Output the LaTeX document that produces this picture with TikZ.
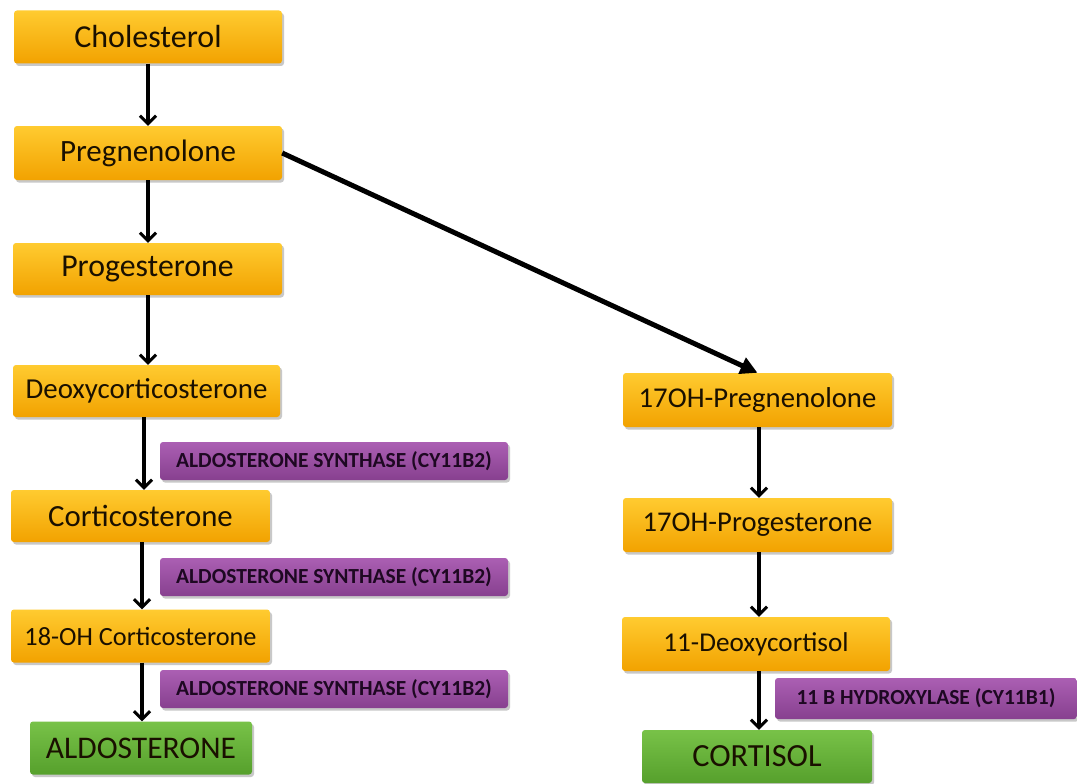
\documentclass[tikz,border=0pt]{standalone}
\usepackage{fontspec}
\setmainfont{Carlito}
\usetikzlibrary{arrows.meta,shadows,calc}
\definecolor{orT}{HTML}{FFCB30}
\definecolor{orB}{HTML}{F2A200}
\definecolor{puT}{HTML}{AB5FB3}
\definecolor{puB}{HTML}{87408F}
\definecolor{grT}{HTML}{78C248}
\definecolor{grB}{HTML}{56A02C}
\definecolor{putext}{HTML}{1E0822}
\definecolor{otext}{HTML}{1A1000}
\begin{document}
\begin{tikzpicture}[x=1pt,y=-1pt,
  base/.style={rounded corners=3pt, draw=none, inner sep=0pt, align=center,
    drop shadow={shadow xshift=2pt, shadow yshift=-2.5pt, opacity=0.3, fill=black!70}},
  obox/.style={base, top color=orT, bottom color=orB, text=otext},
  gbox/.style={base, top color=grT, bottom color=grB, text=otext},
  pbox/.style={base, top color=puT, bottom color=puB, text=putext,
    font=\fontsize{21.5}{21.5}\selectfont\bfseries, minimum width=348pt, minimum height=38pt},
  arr/.style={line width=3.4pt, -{Straight Barb[length=8pt,width=16pt,line width=3pt]}},
  bigarr/.style={line width=5pt, -{Triangle[length=17pt,width=17pt]}}
]
\useasboundingbox (0,0) rectangle (1077,784);
\fill[white] (0,0) rectangle (1077,784);

% left column
\node[obox, minimum width=268pt, minimum height=53pt, font=\fontsize{32}{32}\selectfont] (chol) at (148,37) {Cholesterol};
\node[obox, minimum width=268pt, minimum height=54pt, font=\fontsize{31}{31}\selectfont] (preg) at (148,153) {Pregnenolone};
\node[obox, minimum width=269pt, minimum height=52pt, font=\fontsize{31.8}{31.8}\selectfont] (prog) at (147.5,269) {Progesterone};
\node[obox, minimum width=267pt, minimum height=52pt, font=\fontsize{28.9}{28.9}\selectfont] (doc) at (146.5,391) {Deoxycorticosterone};
\node[obox, minimum width=259pt, minimum height=52pt, font=\fontsize{30.8}{30.8}\selectfont] (cort) at (140.5,516) {Corticosterone};
\node[obox, minimum width=259pt, minimum height=53pt, font=\fontsize{26.3}{26.3}\selectfont] (ohc) at (140.5,636) {18-OH Corticosterone};
\node[gbox, minimum width=222pt, minimum height=53pt, font=\fontsize{31.5}{31.5}\selectfont] (aldo) at (141,748) {ALDOSTERONE};

\node[pbox] (as1) at (334,461) {ALDOSTERONE SYNTHASE (CY11B2)};
\node[pbox] (as2) at (334,577) {ALDOSTERONE SYNTHASE (CY11B2)};
\node[pbox] (as3) at (334,689) {ALDOSTERONE SYNTHASE (CY11B2)};

% right column
\node[obox, minimum width=269pt, minimum height=54pt, font=\fontsize{28.7}{28.7}\selectfont] (ohpreg) at (757.5,400) {17OH-Pregnenolone};
\node[obox, minimum width=269pt, minimum height=54pt, font=\fontsize{28.6}{28.6}\selectfont] (ohprog) at (757.5,525) {17OH-Progesterone};
\node[obox, minimum width=268pt, minimum height=54pt, font=\fontsize{27.2}{27.2}\selectfont] (deoxc) at (756,644) {11-Deoxycortisol};
\node[gbox, minimum width=230pt, minimum height=53pt, font=\fontsize{32.3}{32.3}\selectfont] (cortisol) at (757,756.5) {CORTISOL};
\node[pbox, minimum width=302pt, minimum height=41pt] (hyd) at (926,698.5) {11 B HYDROXYLASE (CY11B1)};

% column x positions
\coordinate (cA) at (148,0);
\coordinate (cB) at (144,0);
\coordinate (cC) at (142,0);
\coordinate (cR) at (759,0);

\draw[arr] (chol.south -| cA) -- (preg.north -| cA);
\draw[arr] (preg.south -| cA) -- (prog.north -| cA);
\draw[arr] (prog.south -| cA) -- (doc.north -| cA);
\draw[arr] (doc.south -| cB) -- (cort.north -| cB);
\draw[arr] (cort.south -| cC) -- (ohc.north -| cC);
\draw[arr] (ohc.south -| cC) -- (aldo.north -| cC);

\draw[bigarr] (preg.east) -- (ohpreg.north);

\draw[arr] (ohpreg.south -| cR) -- (ohprog.north -| cR);
\draw[arr] (ohprog.south -| cR) -- (deoxc.north -| cR);
\draw[arr] (deoxc.south -| cR) -- (cortisol.north -| cR);
\end{tikzpicture}
\end{document}
